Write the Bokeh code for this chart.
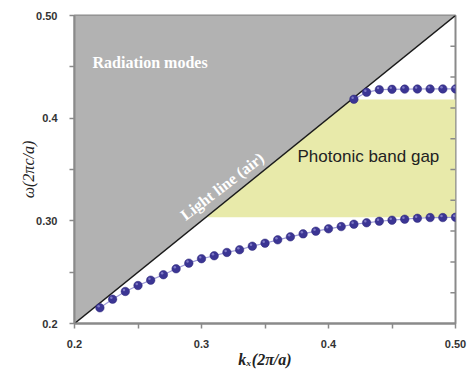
import numpy as np
from bokeh.plotting import figure
from bokeh.models import FixedTicker, Range1d, Label
from bokeh.embed import file_html
from bokeh.resources import INLINE

# data
k_lower = [0.22, 0.23, 0.24, 0.25, 0.26, 0.27, 0.28, 0.29, 0.30, 0.31, 0.32, 0.33,
           0.34, 0.35, 0.36, 0.37, 0.38, 0.39, 0.40, 0.41, 0.42, 0.43, 0.44, 0.45,
           0.46, 0.47, 0.48, 0.49, 0.50]
w_lower = [0.2153, 0.2237, 0.2312, 0.2370, 0.2422, 0.2475, 0.2533, 0.2588, 0.2631,
           0.2660, 0.2692, 0.2718, 0.2753, 0.2782, 0.2815, 0.2844, 0.2873, 0.2899,
           0.2922, 0.2944, 0.2967, 0.2981, 0.2996, 0.3006, 0.3016, 0.3025, 0.3032,
           0.3032, 0.3035]
k_upper = [0.42, 0.43, 0.44, 0.45, 0.46, 0.47, 0.48, 0.49, 0.50]
w_upper = [0.4184, 0.4252, 0.4278, 0.4281, 0.4283, 0.4284, 0.4285, 0.4285, 0.4285]
gap_bottom = 0.3035
gap_top = 0.4181
x_ticks = [0.2, 0.3, 0.4, 0.5]
x_tick_labels = ["0.2", "0.3", "0.4", "0.50"]
y_ticks = [0.2, 0.3, 0.4, 0.5]
y_tick_labels = ["0.2", "0.30", "0.4", "0.50"]
minor = [0.25, 0.35, 0.45]
right_ticks = [0.23, 0.26, 0.29, 0.32, 0.35, 0.38, 0.41, 0.44, 0.47]

p = figure(width=467, height=371, output_backend="svg", toolbar_location=None,
           x_range=Range1d(0.2, 0.5), y_range=Range1d(0.2, 0.5),
           min_border_left=74, min_border_top=15,
           min_border_right=12, min_border_bottom=48)
p.grid.visible = False
p.outline_line_color = "#8a8a8a"
p.outline_line_width = 2
p.background_fill_color = "white"

# radiation modes region
p.patch([0.2, 0.2, 0.5], [0.2, 0.5, 0.5], fill_color="#b2b2b2", line_color=None)
# band gap
p.patch([gap_bottom, gap_top, 0.5, 0.5], [gap_bottom, gap_top, gap_top, gap_bottom],
        fill_color="#e8eaaa", line_color=None)
# light line
p.line([0.2, 0.5], [0.2, 0.5], line_color="#1a1a1a", line_width=1.5)

for kk, ww in [(k_lower, w_lower), (k_upper, w_upper)]:
    p.line(kk, ww, line_color="#9d9ad6", line_width=1.2)
    p.scatter(kk, ww, size=8.5, fill_color="#3b3594", line_color="#2e2878", line_width=0.5)
    p.scatter(np.array(kk) - 0.001, np.array(ww) + 0.0015, size=2.5, fill_color="#8e8ad0",
              line_color=None, fill_alpha=0.8)

# inward ticks on the right border
rt = np.array(right_ticks)
p.segment(x0=np.full(len(rt), 0.5), x1=np.full(len(rt), 0.5 - 0.004), y0=rt, y1=rt,
          line_color="#8a8a8a", line_width=1.5)

# axes styling
for ax in [p.xaxis[0], p.yaxis[0]]:
    ax.axis_line_color = "#8a8a8a"
    ax.axis_line_width = 2
    ax.major_tick_line_color = "#8a8a8a"
    ax.minor_tick_line_color = "#8a8a8a"
    ax.major_tick_line_width = 1.5
    ax.minor_tick_line_width = 1.5
    ax.major_tick_out = 5
    ax.major_tick_in = 0
    ax.minor_tick_out = 5
    ax.minor_tick_in = 0
    ax.major_label_text_font = "Liberation Sans"
    ax.major_label_text_font_style = "bold"
    ax.major_label_text_font_size = "11px"
    ax.major_label_text_color = "#333333"
    ax.axis_label_text_font = "Liberation Serif"
    ax.axis_label_text_font_size = "16px"
    ax.axis_label_text_color = "#222222"

p.xaxis[0].ticker = FixedTicker(ticks=x_ticks, minor_ticks=minor)
p.xaxis[0].major_label_overrides = {t: l for t, l in zip(x_ticks, x_tick_labels)}
p.yaxis[0].ticker = FixedTicker(ticks=y_ticks, minor_ticks=minor)
p.yaxis[0].major_label_overrides = {t: l for t, l in zip(y_ticks, y_tick_labels)}
p.xaxis[0].major_label_standoff = 11
p.yaxis[0].major_label_standoff = 12

# axis titles
p.xaxis[0].axis_label = "kₓ(2π/a)"
p.xaxis[0].axis_label_text_font_style = "bold italic"
p.xaxis[0].axis_label_standoff = 0
p.yaxis[0].axis_label = "ω(2πc/a)"
p.yaxis[0].axis_label_text_font_style = "italic"
p.yaxis[0].axis_label_standoff = -4

# annotations
p.add_layout(Label(x=0.2142, y=0.454, text="Radiation modes", text_color="white",
                   text_font="Liberation Serif", text_font_style="bold",
                   text_font_size="16px", text_baseline="middle"))
p.add_layout(Label(x=0.3163, y=0.3336, text="Light line (air)", text_color="white",
                   text_font="Liberation Serif", text_font_style="bold",
                   text_font_size="16px", text_align="center", text_baseline="middle",
                   angle=0.655))
p.add_layout(Label(x=0.3756, y=0.3626, text="Photonic band gap", text_color="#222222",
                   text_font="Liberation Sans", text_font_size="17px",
                   text_baseline="middle"))

open("out.html", "w").write(file_html(p, INLINE))
